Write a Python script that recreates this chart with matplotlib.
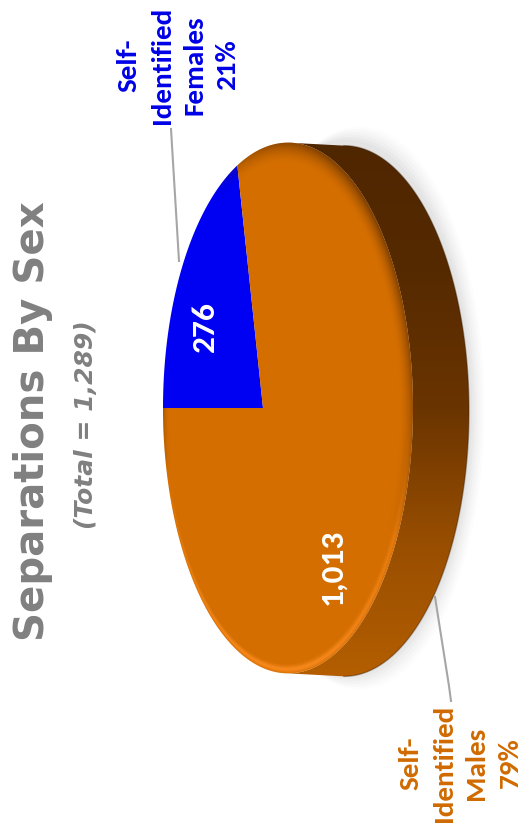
import numpy as np
import matplotlib.pyplot as plt
from matplotlib.patches import Polygon
from matplotlib.colors import LinearSegmentedColormap

# Separations by sex
labels = ["Self-\nIdentified\nFemales", "Self-\nIdentified\nMales"]
counts = [276, 1013]
slice_colors = ["#0000F2", "#D46E00"]
label_colors = ["#0000E6", "#D06A00"]
total = sum(counts)

W, H = 528, 828
fig = plt.figure(figsize=(W / 100, H / 100), dpi=100)
ax = fig.add_axes([0, 0, 1, 1])
ax.set_xlim(0, W)
ax.set_ylim(H, 0)
ax.axis("off")

# tilted pie: unit circle seen in perspective, lying on its side
cx, cy = 263, 409
A, B, k = 120, 260, -0.2
depth = 56


def project(t, r=1.0):
    u, v = r * np.cos(t), r * np.sin(t)
    w = 1 + k * u
    return cx + A * u / w, cy + B * v / w


def unproject(x, y):
    X, Y = (x - cx) / A, (y - cy) / B
    return X / (1 - k * X), Y / (1 - k * X)


t_all = np.linspace(0, 2 * np.pi, 721)
rx, ry = project(t_all)
top_i, bot_i = np.argmin(ry), np.argmax(ry)

# soft shadow behind the disc
for i, a in enumerate(np.linspace(0.05, 0.02, 6)):
    grow = 3 + 2.5 * i
    ax.add_patch(Polygon(np.c_[rx + depth + grow, ry + (ry - cy) * grow / 260],
                         closed=True, fc="#808080", ec="none", alpha=a, zorder=1))

# side wall (right half of top rim joined to the shifted bottom rim)
t_side = np.linspace(t_all[top_i] - 2 * np.pi, t_all[bot_i], 300)
sx, sy = project(t_side)
side = np.r_[np.c_[sx + depth, sy + 3], np.c_[sx, sy][::-1]]
side_patch = Polygon(side, closed=True, fc="none", ec="none", zorder=2)
ax.add_patch(side_patch)
grad = np.linspace(0, 1, 256)[:, None]
side_cmap = LinearSegmentedColormap.from_list(
    "side", ["#4e2600", "#562a00", "#6a3400", "#984e00", "#b45e00"])
img = ax.imshow(grad, cmap=side_cmap, extent=[150, 480, ry.max() + 5, ry.min() - 5],
                aspect="auto", zorder=2)
img.set_clip_path(side_patch)
ax.plot(sx + depth, sy + 3, color="#3a1c00", lw=1.0, alpha=0.4, zorder=3)

# slices on the top face
starts = np.pi + 2 * np.pi * np.cumsum([0] + counts[:-1]) / total
spans = 2 * np.pi * np.array(counts) / total
for s, sp, c in zip(starts, spans, slice_colors):
    t = np.linspace(s, s + sp, 200)
    px, py = project(t)
    ax.add_patch(Polygon(np.c_[np.r_[cx, px], np.r_[cy, py]], closed=True,
                         fc=c, ec="none", zorder=4))

# bevel: dark rim on the upper right, bright rim on the lower right
face = Polygon(np.c_[rx, ry], closed=True, fc="none", ec="none")
ax.add_patch(face)
gx, gy = np.meshgrid(np.arange(W) + 0.5, np.arange(H) + 0.5)
gu, gv = unproject(gx, gy)
gr = np.hypot(gu, gv)
ang = np.degrees(np.arctan2(gv, gu))
edge = np.clip((gr - 0.92) / 0.08, 0, 1)
dark_w = np.clip(np.cos(np.radians(ang + 45) * 1.3), 0, 1) ** 0.7
light_w = np.clip(np.sin(np.radians(ang) * 1.1), 0, 1) * (ang > 0)
light_edge = np.exp(-((gr - 0.985) / 0.012) ** 2)
dark_a = 0.6 * edge ** 2 * dark_w
light_a = 0.8 * light_edge * light_w
tot_a = np.maximum(dark_a + light_a, 1e-6)
bevel = np.zeros((H, W, 4))
bevel[..., 0] = (0.24 * dark_a + 1.0 * light_a) / tot_a
bevel[..., 1] = (0.11 * dark_a + 0.56 * light_a) / tot_a
bevel[..., 2] = (0.14 * light_a) / tot_a
bevel[..., 3] = np.clip(dark_a + light_a, 0, 1)
bimg = ax.imshow(bevel, extent=[0, W, H, 0], aspect="auto", zorder=5,
                 interpolation="bilinear")
bimg.set_clip_path(face)
ax.set_xlim(0, W)
ax.set_ylim(H, 0)

lab_font = dict(family="Carlito", weight="bold")

# value labels inside the slices
ax.text(205, 327, f"{counts[0]:,}", color="white", fontsize=24, rotation=90,
        ha="center", va="center", zorder=6, **lab_font)
ax.text(332, 567, f"{counts[1]:,}", color="white", fontsize=24, rotation=90,
        ha="center", va="center", zorder=6, **lab_font)

# category labels with leader lines
pct = [round(100 * c / total) for c in counts]
ax.text(178, 65, f"{labels[0]}\n{pct[0]}%", color=label_colors[0], fontsize=21,
        rotation=90, ha="center", va="center", multialignment="center",
        linespacing=1.45, **lab_font)
ax.text(460, 763, f"{labels[1]}\n{pct[1]}%", color=label_colors[1], fontsize=21,
        rotation=90, ha="center", va="center", multialignment="center",
        linespacing=1.45, **lab_font)
ax.plot([171, 179], [130, 262], color="#a6a6a6", lw=1.5, zorder=6)
ax.plot([435, 449, 451], [598, 687, 702], color="#a6a6a6", lw=1.5, zorder=6)

# title
ax.text(33, 421, "Separations By Sex", color="#808080", fontsize=29, weight="bold",
        rotation=90, ha="center", va="center", family="DejaVu Sans")
ax.text(86, 425, f"(Total = {total:,})", color="#808080", fontsize=18,
        weight="bold", style="italic", rotation=90, ha="center", va="center",
        family="DejaVu Sans")

fig.savefig("out.png", dpi=100)
